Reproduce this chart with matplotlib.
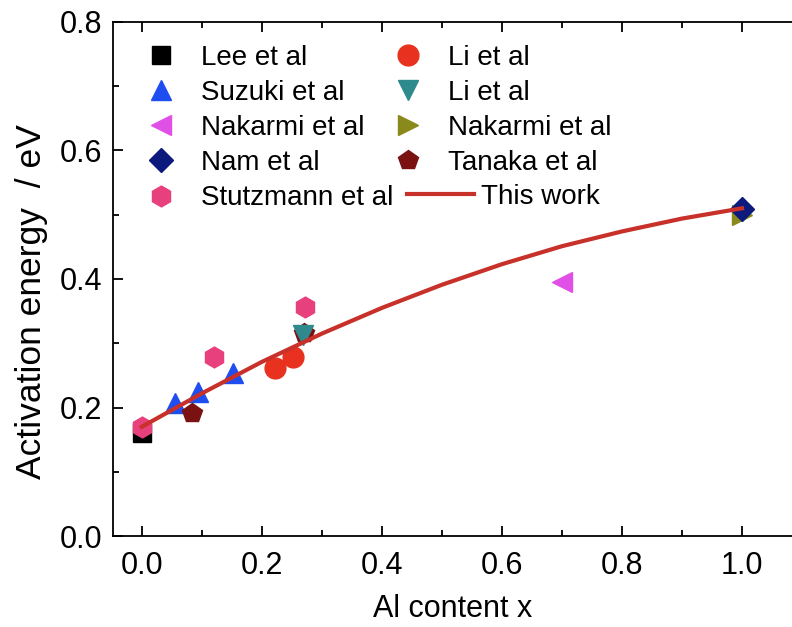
import matplotlib.pyplot as plt
from matplotlib.ticker import MultipleLocator

plt.rcParams['font.family'] = ['Liberation Sans', 'DejaVu Sans']

# literature data (Al content x, activation energy eV)
lee_x = [0.0]
lee_y = [0.16]
li1_x = [0.222, 0.252]
li1_y = [0.261, 0.279]
suzuki_x = [0.056, 0.093, 0.152]
suzuki_y = [0.207, 0.224, 0.254]
li2_x = [0.268]
li2_y = [0.313]
nakarmi1_x = [0.70]
nakarmi1_y = [0.395]
nakarmi2_x = [1.0]
nakarmi2_y = [0.50]
nam_x = [1.0]
nam_y = [0.509]
tanaka_x = [0.083, 0.27]
tanaka_y = [0.191, 0.316]
stutz_x = [0.0, 0.12, 0.272]
stutz_y = [0.17, 0.279, 0.357]

# this work
work_x = [0.0, 0.1, 0.2, 0.3, 0.4, 0.5, 0.6, 0.7, 0.8, 0.9, 1.0]
work_y = [0.170, 0.222, 0.271, 0.315, 0.355, 0.391, 0.423, 0.451, 0.474, 0.494, 0.510]

fig = plt.figure(figsize=(7.92, 6.27), dpi=100)
ax = fig.add_axes([0.1427, 0.1451, 0.8573, 0.8199])

ms = 15
h_lee, = ax.plot(lee_x, lee_y, 's', color='black', ms=13, label='Lee et al', zorder=3)
h_suz, = ax.plot(suzuki_x, suzuki_y, '^', color='#1f4ef0', ms=ms, label='Suzuki et al', zorder=3)
h_nak1, = ax.plot(nakarmi1_x, nakarmi1_y, '<', color='#e050e6', ms=ms, label='Nakarmi et al', zorder=3)
h_nam, = ax.plot(nam_x, nam_y, 'D', color='#0c1a7e', ms=12, label='Nam et al', zorder=4)
h_stu, = ax.plot(stutz_x, stutz_y, 'h', color='#e8407c', ms=ms, label='Stutzmann et al', zorder=4)
h_li1, = ax.plot(li1_x, li1_y, 'o', color='#e8321f', ms=ms, label='Li et al', zorder=3)
h_li2, = ax.plot(li2_x, li2_y, 'v', color='#2e8a8c', ms=ms, label='Li et al', zorder=4)
h_nak2, = ax.plot(nakarmi2_x, nakarmi2_y, '>', color='#8a8a1c', ms=ms, label='Nakarmi et al', zorder=3)
h_tan, = ax.plot(tanaka_x, tanaka_y, 'p', color='#7a1212', ms=ms, label='Tanaka et al', zorder=3)
h_work, = ax.plot(work_x, work_y, '-', color='#c8302a', lw=3, label='This work', zorder=5)

ax.set_xlim(-0.048, 1.0833)
ax.set_ylim(0.0, 0.8)
ax.xaxis.set_major_locator(MultipleLocator(0.2))
ax.xaxis.set_minor_locator(MultipleLocator(0.1))
ax.yaxis.set_major_locator(MultipleLocator(0.2))
ax.yaxis.set_minor_locator(MultipleLocator(0.1))
ax.xaxis.set_major_formatter(plt.FormatStrFormatter('%.1f'))
ax.yaxis.set_major_formatter(plt.FormatStrFormatter('%.1f'))
ax.tick_params(which='both', direction='in', top=True, right=False, width=1.3, labelsize=22)
ax.tick_params(axis='x', pad=11)
ax.tick_params(axis='y', pad=8)
ax.tick_params(which='major', length=7)
ax.tick_params(which='minor', length=4)
ax.spines['right'].set_visible(False)
for s in ['left', 'bottom', 'top']:
    ax.spines[s].set_linewidth(1.3)

ax.set_xlabel('Al content x', fontsize=22, labelpad=9)
ax.set_ylabel('Activation energy  / eV', fontsize=25.5, labelpad=8)
ax.yaxis.label.set_y(0.457)

leg_kw = dict(frameon=False, fontsize=20, labelspacing=0.33, handletextpad=0.45,
              handlelength=2.0, borderaxespad=0.0, borderpad=0.0, loc='upper left')
leg1 = ax.legend(handles=[h_lee, h_suz, h_nak1, h_nam, h_stu],
                 bbox_to_anchor=(0.0295, 0.956), **leg_kw)
ax.add_artist(leg1)
leg2 = ax.legend(handles=[h_li1, h_li2, h_nak2, h_tan],
                 bbox_to_anchor=(0.393, 0.956), **leg_kw)
ax.add_artist(leg2)
ax.legend(handles=[h_work], handlelength=2.4, handletextpad=0.25,
          frameon=False, fontsize=20, borderaxespad=0.0, borderpad=0.0,
          loc='upper left', bbox_to_anchor=(0.433, 0.685))

fig.savefig('out.png', dpi=100)
